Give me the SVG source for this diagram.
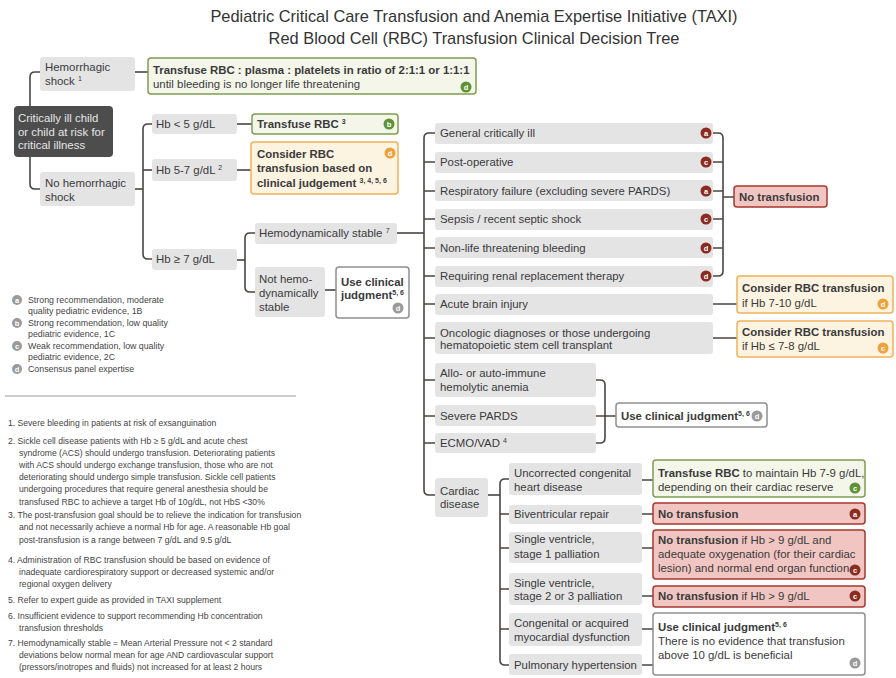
<svg xmlns="http://www.w3.org/2000/svg" width="896" height="678" viewBox="0 0 896 678">
<style>
  text { font-family: "Liberation Sans", Arial, Helvetica, sans-serif; fill: #3a3a3a; }
  .title { font-size: 16.4px; text-anchor: middle; fill: #333; }
  .t { font-size: 11.4px; }
  .b { font-weight: bold; }
  .sup { font-size: 7px; }
  .lt { fill: #e6e6e6; }
  .box { fill: #e4e4e5; }
  .dark { fill: #4d4d4d; }
  .green { fill: #f4f6ea; stroke: #7f9c55; stroke-width: 1.5; }
  .orange { fill: #fdf3e1; stroke: #efb25a; stroke-width: 1.5; }
  .red { fill: #f1c6c2; stroke: #a5392f; stroke-width: 1.5; }
  .white { fill: #ffffff; stroke: #8f8f8f; stroke-width: 1.5; }
  .con { fill: none; stroke: #4a4541; stroke-width: 1.6; }
  .bg { fill: #5f9236; }
  .bo { fill: #f0a23a; }
  .br { fill: #8c2b20; }
  .bgr { fill: #9a9a9a; }
  .bl { font-size: 7.5px; font-weight: bold; fill: #ffffff; text-anchor: middle; }
  .leg { font-size: 8.8px; fill: #444; }
  .fn { font-size: 8.6px; fill: #444; }
  .rule { stroke: #9a9a9a; stroke-width: 1; }
</style>

<!-- title -->
<g id="title">
  <text class="title" x="474" y="22">Pediatric Critical Care Transfusion and Anemia Expertise Initiative (TAXI)</text>
  <text class="title" x="474" y="44">Red Blood Cell (RBC) Transfusion Clinical Decision Tree</text>
</g>

<!-- connectors -->
<g id="connectors" class="con">
  <path d="M30,106 V77 Q30,72 35,72 H40"/>
  <path d="M30,157 V184 Q30,189 35,189 H40"/>
  <path d="M135,72 H148"/>
  <path d="M135,189 H143"/>
  <path d="M152,124 H148 Q143,124 143,129 V254 Q143,259 148,259 H152"/>
  <path d="M143,170 H152"/>
  <path d="M237,124 H252"/>
  <path d="M237,170 H251"/>
  <path d="M237,260 H245"/>
  <path d="M255,233 H250 Q245,233 245,238 V287 Q245,292 250,292 H255"/>
  <path d="M325,290 H336"/>
  <path d="M397,233 H424"/>
  <path d="M435,133 H429 Q424,133 424,138 V490 Q424,495 429,495 H435"/>
  <path d="M424,162 H435 M424,191 H435 M424,219 H435 M424,248 H435 M424,276 H435 M424,304 H435 M424,338 H435 M424,380 H435 M424,416 H435 M424,443 H435"/>
  <path d="M713,133 H718 Q723,133 723,138 V271 Q723,276 718,276 H713"/>
  <path d="M713,162 H723 M713,191 H723 M713,219 H723 M713,248 H723 M723,197 H734"/>
  <path d="M713,304 H737 M713,338 H737"/>
  <path d="M596,380 H600 Q605,380 605,385 V438 Q605,443 600,443 H596 M596,416 H616"/>
  <path d="M488,495 H500"/>
  <path d="M509,479 H505 Q500,479 500,484 V660 Q500,665 505,665 H509"/>
  <path d="M500,514 H509 M500,548 H509 M500,589 H509 M500,629 H509"/>
  <path d="M642,480 H653 M642,514 H653 M642,548 H653 M642,596 H653 M642,629 H653 M642,665 H653"/>
</g>

<!-- left side -->
<g id="critically-ill">
  <rect class="dark" x="14" y="106" width="99" height="51" rx="4"/>
  <text class="t lt" x="18" y="122">Critically ill child</text>
  <text class="t lt" x="18" y="136">or child at risk for</text>
  <text class="t lt" x="18" y="149">critical illness</text>
</g>
<g id="hemorrhagic-shock">
  <rect class="box" x="40" y="57" width="95" height="34" rx="3"/>
  <text class="t" x="45" y="71">Hemorrhagic</text>
  <text class="t" x="45" y="85">shock <tspan class="sup" dy="-4">1</tspan></text>
</g>
<g id="massive-transfusion">
  <rect class="green" x="148" y="58" width="328" height="36" rx="3"/>
  <text class="t b" x="153" y="74">Transfuse RBC : plasma : platelets in ratio of 2:1:1 or 1:1:1</text>
  <text class="t" x="153" y="88">until bleeding is no longer life threatening</text>
  <circle class="bg" cx="466" cy="87" r="5.5"/><text class="bl" x="466" y="89.7">d</text>
</g>
<g id="no-hemorrhagic-shock">
  <rect class="box" x="40" y="172" width="95" height="34" rx="3"/>
  <text class="t" x="45" y="187">No hemorrhagic</text>
  <text class="t" x="45" y="201">shock</text>
</g>
<g id="hb-lt5">
  <rect class="box" x="152" y="114" width="85" height="20" rx="3"/>
  <text class="t" x="156" y="128">Hb &lt; 5 g/dL</text>
</g>
<g id="transfuse-rbc">
  <rect class="green" x="252" y="114" width="146" height="20" rx="3"/>
  <text class="t b" x="257" y="128">Transfuse RBC <tspan class="sup" dy="-4">3</tspan></text>
  <circle class="bg" cx="389" cy="124" r="5.5"/><text class="bl" x="389" y="126.7">b</text>
</g>
<g id="hb-5-7">
  <rect class="box" x="152" y="159" width="85" height="22" rx="3"/>
  <text class="t" x="156" y="174">Hb 5-7 g/dL <tspan class="sup" dy="-4">2</tspan></text>
</g>
<g id="consider-rbc">
  <rect class="orange" x="251" y="142" width="147" height="52" rx="3"/>
  <text class="t b" x="257" y="158">Consider RBC</text>
  <text class="t b" x="257" y="172">transfusion based on</text>
  <text class="t b" x="257" y="187">clinical judgement <tspan class="sup" dy="-4">3, 4, 5, 6</tspan></text>
  <circle class="bo" cx="390" cy="153" r="5.5"/><text class="bl" x="390" y="155.7">d</text>
</g>
<g id="hb-ge7">
  <rect class="box" x="152" y="249" width="85" height="21" rx="3"/>
  <text class="t" x="156" y="263">Hb ≥ 7 g/dL</text>
</g>
<g id="hemo-stable">
  <rect class="box" x="255" y="223" width="142" height="21" rx="3"/>
  <text class="t" x="259" y="237">Hemodynamically stable <tspan class="sup" dy="-4">7</tspan></text>
</g>
<g id="not-hemo-stable">
  <rect class="box" x="255" y="267" width="70" height="50" rx="3"/>
  <text class="t" x="259" y="283">Not hemo-</text>
  <text class="t" x="259" y="297">dynamically</text>
  <text class="t" x="259" y="311">stable</text>
</g>
<g id="use-judgment-unstable">
  <rect class="white" x="336" y="267" width="73" height="51" rx="3"/>
  <text class="t b" x="341" y="286">Use clinical</text>
  <text class="t b" x="341" y="299">judgment<tspan class="sup" dy="-4">5, 6</tspan></text>
  <circle class="bgr" cx="398" cy="308" r="5.5"/><text class="bl" x="398" y="310.7">d</text>
</g>

<!-- stable patient categories -->
<g id="general-critically-ill">
  <rect class="box" x="435" y="123" width="278" height="21" rx="3"/>
  <text class="t" x="440" y="137">General critically ill</text>
  <circle class="br" cx="706" cy="133" r="5.5"/><text class="bl" x="706" y="135.7">a</text>
</g>
<g id="post-operative">
  <rect class="box" x="435" y="152" width="278" height="21" rx="3"/>
  <text class="t" x="440" y="166">Post-operative</text>
  <circle class="br" cx="706" cy="162" r="5.5"/><text class="bl" x="706" y="164.7">c</text>
</g>
<g id="respiratory-failure">
  <rect class="box" x="435" y="180" width="278" height="21" rx="3"/>
  <text class="t" x="440" y="195">Respiratory failure (excluding severe PARDS)</text>
  <circle class="br" cx="706" cy="191" r="5.5"/><text class="bl" x="706" y="193.7">a</text>
</g>
<g id="sepsis">
  <rect class="box" x="435" y="209" width="278" height="21" rx="3"/>
  <text class="t" x="440" y="223">Sepsis / recent septic shock</text>
  <circle class="br" cx="706" cy="219" r="5.5"/><text class="bl" x="706" y="221.7">c</text>
</g>
<g id="non-life-bleeding">
  <rect class="box" x="435" y="237" width="278" height="21" rx="3"/>
  <text class="t" x="440" y="252">Non-life threatening bleeding</text>
  <circle class="br" cx="706" cy="248" r="5.5"/><text class="bl" x="706" y="250.7">d</text>
</g>
<g id="renal-replacement">
  <rect class="box" x="435" y="266" width="278" height="21" rx="3"/>
  <text class="t" x="440" y="280">Requiring renal replacement therapy</text>
  <circle class="br" cx="706" cy="276" r="5.5"/><text class="bl" x="706" y="278.7">d</text>
</g>
<g id="no-transfusion">
  <rect class="red" x="734" y="186" width="93" height="21" rx="3"/>
  <text class="t b" x="739" y="201">No transfusion</text>
</g>
<g id="acute-brain-injury">
  <rect class="box" x="435" y="294" width="278" height="21" rx="3"/>
  <text class="t" x="440" y="308">Acute brain injury</text>
</g>
<g id="consider-brain">
  <rect class="orange" x="737" y="276" width="156" height="37" rx="3"/>
  <text class="t b" x="742" y="292">Consider RBC transfusion</text>
  <text class="t" x="742" y="307">if Hb 7-10 g/dL</text>
  <circle class="bo" cx="883" cy="304" r="5.5"/><text class="bl" x="883" y="306.7">d</text>
</g>
<g id="oncologic">
  <rect class="box" x="435" y="322" width="278" height="32" rx="3"/>
  <text class="t" x="440" y="337">Oncologic diagnoses or those undergoing</text>
  <text class="t" x="440" y="349">hematopoietic stem cell transplant</text>
</g>
<g id="consider-oncologic">
  <rect class="orange" x="737" y="321" width="156" height="36" rx="3"/>
  <text class="t b" x="742" y="336">Consider RBC transfusion</text>
  <text class="t" x="742" y="350">if Hb ≤ 7-8 g/dL</text>
  <circle class="bo" cx="883" cy="348" r="5.5"/><text class="bl" x="883" y="350.7">c</text>
</g>
<g id="hemolytic-anemia">
  <rect class="box" x="435" y="363" width="161" height="34" rx="3"/>
  <text class="t" x="440" y="377">Allo- or auto-immune</text>
  <text class="t" x="440" y="391">hemolytic anemia</text>
</g>
<g id="severe-pards">
  <rect class="box" x="435" y="405" width="161" height="21" rx="3"/>
  <text class="t" x="440" y="420">Severe PARDS</text>
</g>
<g id="ecmo-vad">
  <rect class="box" x="435" y="433" width="161" height="20" rx="3"/>
  <text class="t" x="440" y="447">ECMO/VAD <tspan class="sup" dy="-4">4</tspan></text>
</g>
<g id="use-judgment-special">
  <rect class="white" x="616" y="403" width="151" height="24" rx="3"/>
  <text class="t b" x="621" y="420">Use clinical judgment<tspan class="sup" dy="-4">5, 6</tspan></text>
  <circle class="bgr" cx="757" cy="416" r="5.5"/><text class="bl" x="757" y="418.7">d</text>
</g>

<!-- cardiac disease -->
<g id="cardiac-disease">
  <rect class="box" x="435" y="478" width="53" height="39" rx="3"/>
  <text class="t" x="440" y="495">Cardiac</text>
  <text class="t" x="440" y="508">disease</text>
</g>
<g id="uncorrected-chd">
  <rect class="box" x="509" y="463" width="133" height="32" rx="3"/>
  <text class="t" x="514" y="477">Uncorrected congenital</text>
  <text class="t" x="514" y="491">heart disease</text>
</g>
<g id="transfuse-chd">
  <rect class="green" x="653" y="460" width="212" height="37" rx="3"/>
  <text class="t" x="658" y="477"><tspan class="b">Transfuse RBC</tspan> to maintain Hb 7-9 g/dL,</text>
  <text class="t" x="658" y="491">depending on their cardiac reserve</text>
  <circle class="bg" cx="855" cy="488" r="5.5"/><text class="bl" x="855" y="490.7">c</text>
</g>
<g id="biventricular">
  <rect class="box" x="509" y="505" width="133" height="19" rx="3"/>
  <text class="t" x="514" y="518">Biventricular repair</text>
</g>
<g id="no-transfusion-biv">
  <rect class="red" x="653" y="503" width="212" height="21" rx="3"/>
  <text class="t b" x="658" y="518">No transfusion</text>
  <circle class="br" cx="855" cy="514" r="5.5"/><text class="bl" x="855" y="516.7">a</text>
</g>
<g id="single-ventricle-1">
  <rect class="box" x="509" y="532" width="133" height="31" rx="3"/>
  <text class="t" x="514" y="543">Single ventricle,</text>
  <text class="t" x="514" y="558">stage 1 palliation</text>
</g>
<g id="no-transfusion-sv1">
  <rect class="red" x="653" y="530" width="212" height="49" rx="3"/>
  <text class="t" x="658" y="544"><tspan class="b">No transfusion</tspan> if Hb &gt; 9 g/dL and</text>
  <text class="t" x="658" y="558">adequate oxygenation (for their cardiac</text>
  <text class="t" x="658" y="572">lesion) and normal end organ function</text>
  <circle class="br" cx="855" cy="570" r="5.5"/><text class="bl" x="855" y="572.7">c</text>
</g>
<g id="single-ventricle-23">
  <rect class="box" x="509" y="573" width="133" height="32" rx="3"/>
  <text class="t" x="514" y="587">Single ventricle,</text>
  <text class="t" x="514" y="600">stage 2 or 3 palliation</text>
</g>
<g id="no-transfusion-sv23">
  <rect class="red" x="653" y="586" width="212" height="21" rx="3"/>
  <text class="t" x="658" y="600"><tspan class="b">No transfusion</tspan> if Hb &gt; 9 g/dL</text>
  <circle class="br" cx="855" cy="596" r="5.5"/><text class="bl" x="855" y="598.7">c</text>
</g>
<g id="myocardial-dysfunction">
  <rect class="box" x="509" y="613" width="133" height="33" rx="3"/>
  <text class="t" x="514" y="627">Congenital or acquired</text>
  <text class="t" x="514" y="641">myocardial dysfunction</text>
</g>
<g id="pulmonary-hypertension">
  <rect class="box" x="509" y="654" width="133" height="21" rx="3"/>
  <text class="t" x="514" y="669">Pulmonary hypertension</text>
</g>
<g id="use-judgment-cardiac">
  <rect class="white" x="653" y="613" width="212" height="62" rx="3"/>
  <text class="t b" x="658" y="631">Use clinical judgment<tspan class="sup" dy="-4">5, 6</tspan></text>
  <text class="t" x="658" y="645">There is no evidence that transfusion</text>
  <text class="t" x="658" y="659">above 10 g/dL is beneficial</text>
  <circle class="bgr" cx="855" cy="663" r="5.5"/><text class="bl" x="855" y="665.7">d</text>
</g>

<!-- evidence legend -->
<g id="legend">
  <circle class="bgr" cx="17" cy="300" r="5"/><text class="bl" x="17" y="302.6">a</text>
  <text class="leg" x="28" y="303">Strong recommendation, moderate</text>
  <text class="leg" x="28" y="314">quality pediatric evidence, 1B</text>
  <circle class="bgr" cx="17" cy="323" r="5"/><text class="bl" x="17" y="325.6">b</text>
  <text class="leg" x="28" y="326">Strong recommendation, low quality</text>
  <text class="leg" x="28" y="337">pediatric evidence, 1C</text>
  <circle class="bgr" cx="17" cy="346" r="5"/><text class="bl" x="17" y="348.6">c</text>
  <text class="leg" x="28" y="349">Weak recommendation, low quality</text>
  <text class="leg" x="28" y="360">pediatric evidence, 2C</text>
  <circle class="bgr" cx="17" cy="369" r="5"/><text class="bl" x="17" y="371.6">d</text>
  <text class="leg" x="28" y="372">Consensus panel expertise</text>
  <line class="rule" x1="5" y1="396" x2="296" y2="396"/>
</g>

<!-- footnotes -->
<g id="footnotes">
  <text class="fn" x="8" y="426">1. Severe bleeding in patients at risk of exsanguination</text>
  <text class="fn" x="8" y="444">2. Sickle cell disease patients with Hb ≥ 5 g/dL and acute chest</text>
  <text class="fn" x="19" y="456">syndrome (ACS) should undergo transfusion. Deteriorating patients</text>
  <text class="fn" x="19" y="468">with ACS should undergo exchange transfusion, those who are not</text>
  <text class="fn" x="19" y="480">deteriorating should undergo simple transfusion. Sickle cell patients</text>
  <text class="fn" x="19" y="492">undergoing procedures that require general anesthesia should be</text>
  <text class="fn" x="19" y="505">transfused RBC to achieve a target Hb of 10g/dL, not HbS &lt;30%</text>
  <text class="fn" x="8" y="518">3. The post-transfusion goal should be to relieve the indication for transfusion</text>
  <text class="fn" x="19" y="530">and not necessarily achieve a normal Hb for age.  A reasonable Hb goal</text>
  <text class="fn" x="19" y="543">post-transfusion is a range between 7 g/dL and 9.5 g/dL</text>
  <text class="fn" x="8" y="563">4. Administration of RBC transfusion should be based on evidence of</text>
  <text class="fn" x="19" y="575">inadequate cardiorespiratory support or decreased systemic and/or</text>
  <text class="fn" x="19" y="587">regional oxygen delivery</text>
  <text class="fn" x="8" y="603">5. Refer to expert guide as provided in TAXI supplement</text>
  <text class="fn" x="8" y="619">6. Insufficient evidence to support recommending Hb concentration</text>
  <text class="fn" x="19" y="631">transfusion thresholds</text>
  <text class="fn" x="8" y="646">7. Hemodynamically stable = Mean Arterial Pressure not &lt; 2 standard</text>
  <text class="fn" x="19" y="658">deviations below normal mean for age AND cardiovascular support</text>
  <text class="fn" x="19" y="670">(pressors/inotropes and fluids) not increased for at least 2 hours</text>
</g>
</svg>
